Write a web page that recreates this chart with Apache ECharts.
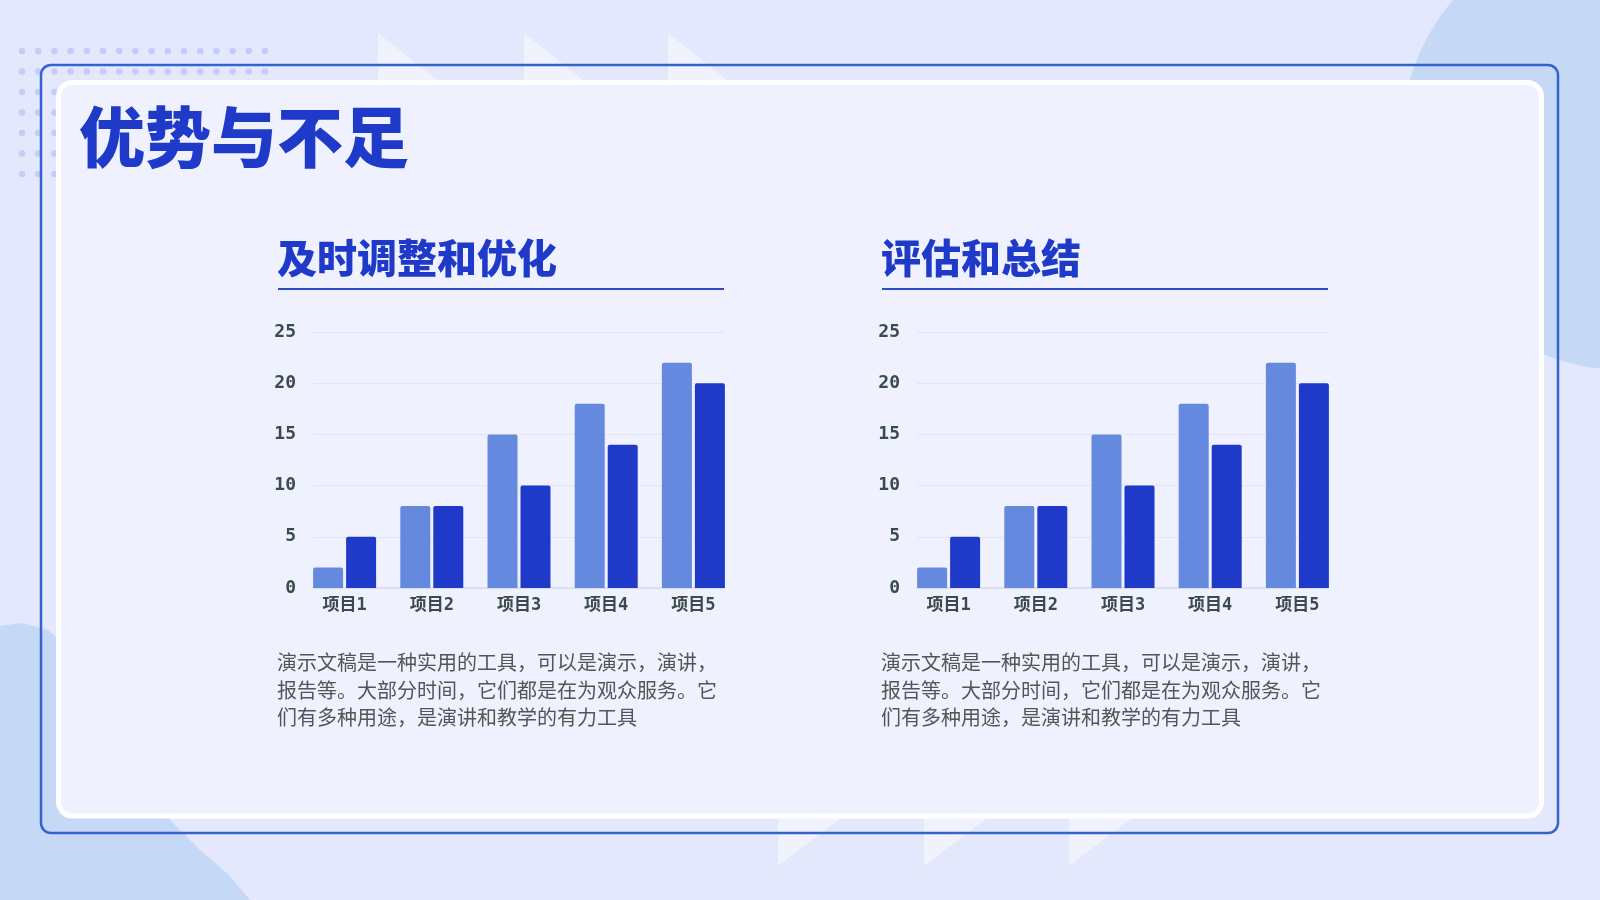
<!DOCTYPE html>
<html>
<head>
<meta charset="utf-8">
<title>优势与不足</title>
<script src="https://cdn.jsdelivr.net/npm/echarts@6/dist/echarts.min.js"></script>
<style>
  html, body { margin: 0; padding: 0; background: #e4e8fd; }
  #main { width: 1600px; height: 900px; }
</style>
</head>
<body>
<div id="main"></div>
<script>
// 数据
const categories = ['项目1', '项目2', '项目3', '项目4', '项目5'];
const seriesLight = [2, 8, 15, 18, 22];
const seriesDark = [5, 8, 10, 14, 20];
const yTicks = [0, 5, 10, 15, 20, 25];
const panelTitles = ['及时调整和优化', '评估和总结'];
const pageTitle = '优势与不足';
const bodyText = '演示文稿是一种实用的工具，可以是演示，演讲，报告等。大部分时间，它们都是在为观众服务。它们有多种用途，是演讲和教学的有力工具';

const cjk = '"Noto Sans CJK SC", "Noto Sans", sans-serif';
const numFont = '"DejaVu Sans Mono", "Noto Sans CJK SC", monospace';
const chart = echarts.init(document.getElementById('main'));

const W = 1600, H = 900;
const panelOffset = [0, 604];

// 背景装饰
const graphic = [
  { type: 'rect', z: -20, shape: { x: 0, y: 0, width: W, height: H }, style: { fill: '#e4e8fd' } },
  { type: 'circle', z: -19, shape: { cx: 1625, cy: 145, r: 225 }, style: { fill: '#c5d9f7' } },
  {
    type: 'polygon', z: -19,
    shape: {
      points: [[0, 900], [0, 626], [22, 623], [48, 630], [72, 650], [95, 688], [118, 735],
        [142, 780], [170, 820], [200, 850], [228, 874], [250, 900]]
    },
    style: { fill: '#c5d9f7' }
  }
];
[378, 524, 668].forEach(function (x) {
  graphic.push({ type: 'polygon', z: -18, shape: { points: [[x, 33], [x, 165], [x + 166, 165]] }, style: { fill: 'rgba(255,255,255,0.45)' } });
});
[778, 924, 1069].forEach(function (x) {
  graphic.push({ type: 'polygon', z: -18, shape: { points: [[x, 866], [x, 740], [x + 166, 740]] }, style: { fill: 'rgba(255,255,255,0.45)' } });
});
for (let r = 0; r < 7; r++) {
  for (let c = 0; c < 16; c++) {
    graphic.push({ type: 'circle', z: -17, shape: { cx: 22 + c * 16.2, cy: 51 + r * 20.5, r: 3.3 }, style: { fill: '#c3cdf7' } });
  }
}
// 外框与卡片
graphic.push({
  type: 'rect', z: -16,
  shape: { x: 41, y: 65, width: 1517, height: 768, r: 10 },
  style: { fill: 'none', stroke: '#3563cc', lineWidth: 2.5 }
});
graphic.push({
  type: 'rect', z: -15,
  shape: { x: 58.5, y: 82.5, width: 1483, height: 733.5, r: 14 },
  style: { fill: '#eff2fe', stroke: '#ffffff', lineWidth: 5 }
});
// 标题
graphic.push({
  type: 'text', z: 10, left: 79, top: 104,
  style: { text: pageTitle, fill: '#1f3ac8', font: '900 66px ' + cjk }
});

const grid = [];
const xAxis = [];
const yAxis = [];
const series = [];

panelOffset.forEach(function (dx, i) {
  graphic.push({
    type: 'text', z: 10, left: 277 + dx, top: 238,
    style: { text: panelTitles[i], fill: '#1f3ac8', font: '900 40px ' + cjk }
  });
  graphic.push({
    type: 'line', z: 10,
    shape: { x1: 278 + dx, y1: 289, x2: 724 + dx, y2: 289 },
    style: { stroke: '#2f4bbf', lineWidth: 2 }
  });
  graphic.push({
    type: 'text', z: 10, left: 277 + dx, top: 649,
    style: {
      text: bodyText, width: 446, overflow: 'break', lineHeight: 27.5,
      fill: '#555555', font: '20px ' + cjk
    }
  });

  // 刻度与网格线
  grid.push({ left: 313 + dx, right: W - 724 - dx, top: 332, bottom: H - 588 });
  // 柱子
  grid.push({ left: 301 + dx, right: W - 737 - dx, top: 332, bottom: H - 588 });
  const g0 = i * 2, g1 = i * 2 + 1;

  xAxis.push({
    type: 'category', gridIndex: g0, data: categories,
    axisLine: { lineStyle: { color: '#d8dce8', width: 1.5 } },
    axisTick: { show: false }, axisLabel: { show: false }
  });
  xAxis.push({
    type: 'category', gridIndex: g1, data: categories,
    axisLine: { show: false }, axisTick: { show: false },
    axisLabel: { margin: 9, color: '#3a4b4a', fontSize: 17, fontWeight: 'bold', fontFamily: numFont }
  });
  yAxis.push({
    type: 'value', gridIndex: g0, min: yTicks[0], max: yTicks[yTicks.length - 1], interval: 5,
    axisLine: { show: false }, axisTick: { show: false },
    axisLabel: { margin: 17, color: '#3a4b4a', fontSize: 18, fontWeight: 'bold', fontFamily: numFont },
    splitLine: { lineStyle: { color: '#e2e6f3', width: 1 } }
  });
  yAxis.push({
    type: 'value', gridIndex: g1, min: yTicks[0], max: yTicks[yTicks.length - 1], interval: 5,
    axisLine: { show: false }, axisTick: { show: false }, axisLabel: { show: false }, splitLine: { show: false }
  });

  series.push({
    type: 'bar', name: '系列1', xAxisIndex: g1, yAxisIndex: g1, data: seriesLight,
    barWidth: 30, barGap: '10%',
    itemStyle: { color: '#6689e0', borderRadius: [2, 2, 0, 0] }
  });
  series.push({
    type: 'bar', name: '系列2', xAxisIndex: g1, yAxisIndex: g1, data: seriesDark,
    barWidth: 30, barGap: '10%',
    itemStyle: { color: '#1f3ac8', borderRadius: [2, 2, 0, 0] }
  });
});

chart.setOption({
  animation: false,
  backgroundColor: '#e4e8fd',
  graphic: graphic,
  grid: grid,
  xAxis: xAxis,
  yAxis: yAxis,
  series: series
});
</script>
</body>
</html>
